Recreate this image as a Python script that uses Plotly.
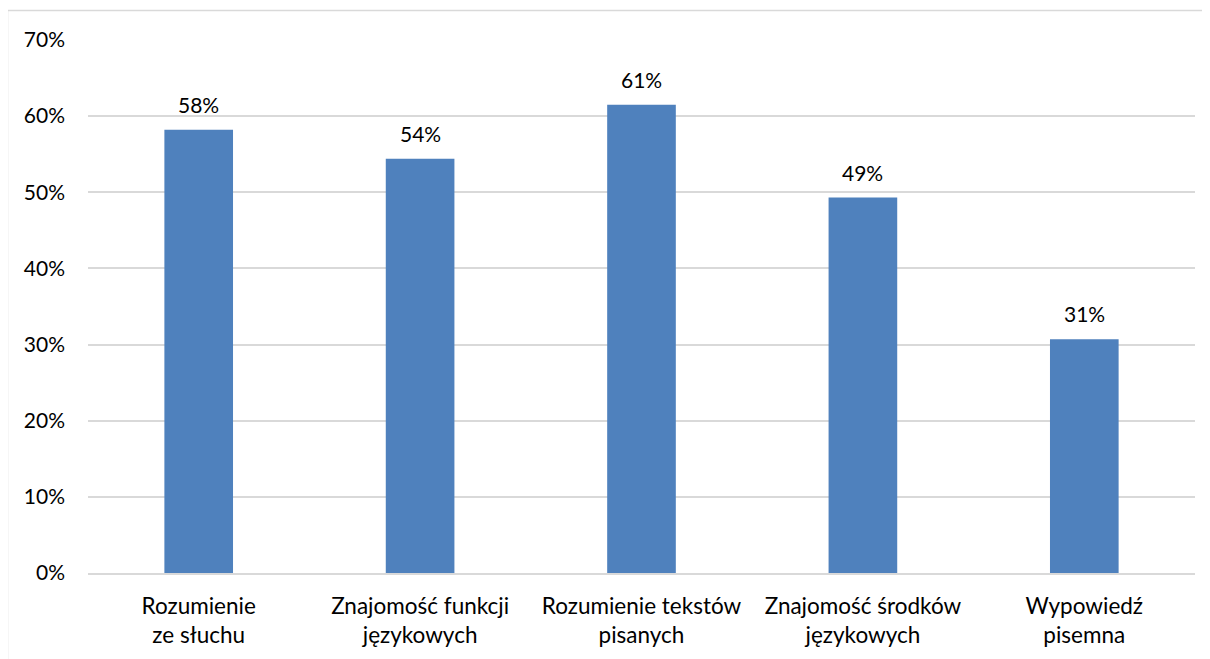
import plotly.graph_objects as go

categories = ["Rozumienie<br>ze słuchu", "Znajomość funkcji<br>językowych", "Rozumienie tekstów<br>pisanych", "Znajomość środków<br>językowych", "Wypowiedź<br>pisemna"]
values = [0.582, 0.544, 0.615, 0.493, 0.307]
labels = ["58%", "54%", "61%", "49%", "31%"]
tick_vals = [0, 0.1, 0.2, 0.3, 0.4, 0.5, 0.6, 0.7]
tick_text = ["0%", "10%", "20%", "30%", "40%", "50%", "60%", "70%"]

OFF = 8  # default body margin in the page
W, H = 1210 - OFF, 659 - OFF
L, R, T, B = 88 - OFF, 15, 40 - OFF, 86
pw, ph = W - L - R, H - T - B

fig = go.Figure(go.Bar(x=categories, y=values, marker_color="#4f81bd", marker_line_width=0, hoverinfo="skip"))

for c, v, t in zip(categories, values, labels):
    fig.add_annotation(x=c, y=v, text=t, showarrow=False, yanchor="bottom", yshift=11,
                       font=dict(family="Lato", size=21, color="#000000"))

ytop = 1 + (T - (10.5 - OFF)) / ph
xleft = (7.5 - OFF - L) / pw
fig.add_shape(type="line", xref="paper", yref="paper",
              x0=xleft, x1=(W - L + 5) / pw, y0=ytop, y1=ytop,
              line=dict(color="#d9d9d9", width=1.5))
fig.add_shape(type="line", xref="paper", yref="paper",
              x0=xleft, x1=xleft, y0=ytop, y1=-(B + 10) / ph,
              line=dict(color="#d9d9d9", width=1.5))

fig.update_layout(
    width=W, height=H,
    margin=dict(l=L, r=R, t=T, b=B),
    paper_bgcolor="white", plot_bgcolor="white",
    bargap=0.69,
    showlegend=False,
    font=dict(family="Lato", size=21, color="#000000"),
    xaxis=dict(showgrid=False, showline=True, linecolor="#d9d9d9", linewidth=1.5,
               ticks="", tickfont=dict(size=22.5), ticklabelstandoff=12, fixedrange=True),
    yaxis=dict(range=[0, 0.7], tickvals=tick_vals, ticktext=tick_text, showgrid=True,
               gridcolor="#d9d9d9", gridwidth=1.5, zeroline=False, showline=False,
               ticks="", ticklabelstandoff=22, tickfont=dict(size=21), fixedrange=True),
)

fig.write_html("out.html", config={"displayModeBar": False})
